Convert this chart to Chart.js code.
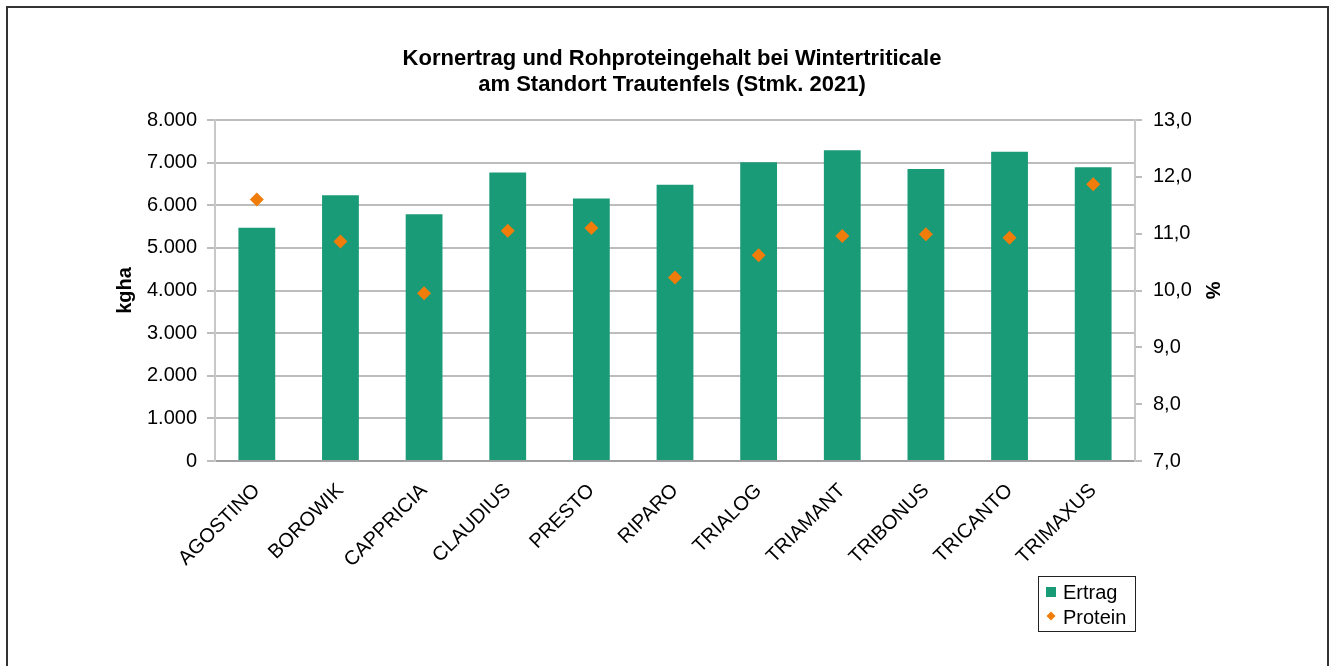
<!DOCTYPE html>
<html>
<head>
<meta charset="utf-8">
<script src="https://cdn.jsdelivr.net/npm/chart.js@4.4.1/dist/chart.umd.min.js"></script>
<style>
  html, body { margin: 0; padding: 0; background: #fff; }
  #wrap { position: relative; width: 1333px; height: 666px; overflow: hidden; }
  #frame { position: absolute; left: 6px; top: 6px; width: 1323px; height: 720px; border: 2px solid #333; box-sizing: border-box; }
  #wrap canvas { position: absolute; left: 0; top: 0; }
</style>
</head>
<body>
<div id="wrap">
  <div id="frame"></div>
  <canvas id="chart" width="1333" height="666"></canvas>
</div>
<script>
// Sorten (Kategorien)
const categories = ['AGOSTINO', 'BOROWIK', 'CAPPRICIA', 'CLAUDIUS', 'PRESTO', 'RIPARO',
                    'TRIALOG', 'TRIAMANT', 'TRIBONUS', 'TRICANTO', 'TRIMAXUS'];
// Kornertrag in kg/ha
const ertrag = [5470, 6235, 5790, 6770, 6160, 6480, 7010, 7290, 6850, 7255, 6890];
// Rohproteingehalt in %
const protein = [11.60, 10.86, 9.95, 11.05, 11.10, 10.23, 10.62, 10.96, 10.99, 10.93, 11.87];

// Achsenbereiche
const ertragAxis = { min: 0, max: 8000, step: 1000 };
const proteinAxis = { min: 7, max: 13, step: 1 };

const FONT = '"Liberation Sans", Arial, Helvetica, sans-serif';
const GREEN = '#1a9b78';
const ORANGE = '#f07d0a';

// Zahlen im deutschen Format
const fmtThousands = v => String(Math.round(v)).replace(/\B(?=(\d{3})+(?!\d))/g, '.');
const fmtOneDecimal = v => v.toFixed(1).replace('.', ',');

// Legende mit Rahmen unten rechts (wie im Original)
const boxLegend = {
  id: 'boxLegend',
  afterDraw(chart) {
    const ctx = chart.ctx;
    const x = 1038, y = 576, w = 97, h = 55;
    ctx.save();
    ctx.strokeStyle = '#222';
    ctx.lineWidth = 1;
    ctx.strokeRect(x + 0.5, y + 0.5, w, h);
    ctx.font = '20px ' + FONT;
    ctx.textBaseline = 'middle';
    ctx.textAlign = 'left';
    chart.data.datasets.forEach((ds, i) => {
      const cy = y + 16 + i * 25;
      ctx.fillStyle = ds.backgroundColor;
      if (ds.type === 'bar') {
        ctx.fillRect(x + 8, cy - 5, 10, 10);
      } else {
        const cx = x + 13, r = 4.5;
        ctx.beginPath();
        ctx.moveTo(cx, cy - r - 1);
        ctx.lineTo(cx + r, cy - 1);
        ctx.lineTo(cx, cy + r - 1);
        ctx.lineTo(cx - r, cy - 1);
        ctx.closePath();
        ctx.fill();
      }
      ctx.fillStyle = '#000';
      ctx.fillText(ds.label, x + 25, cy + 1);
    });
    ctx.restore();
  }
};

const ctx = document.getElementById('chart').getContext('2d');
new Chart(ctx, {
  data: {
    labels: categories,
    datasets: [
      {
        type: 'bar',
        label: 'Ertrag',
        data: ertrag,
        backgroundColor: GREEN,
        categoryPercentage: 1.0,
        barPercentage: 0.44,
        yAxisID: 'y',
        order: 1
      },
      {
        type: 'line',
        label: 'Protein',
        data: protein,
        showLine: false,
        pointStyle: 'rectRot',
        pointRadius: 7,
        pointBorderWidth: 0,
        backgroundColor: ORANGE,
        borderColor: ORANGE,
        yAxisID: 'y1',
        order: 0
      }
    ]
  },
  options: {
    responsive: false,
    animation: false,
    layout: { padding: { left: 11, right: 0, top: 0, bottom: 0 } },
    plugins: {
      legend: { display: false },
      tooltip: { enabled: false },
      title: {
        display: true,
        text: ['Kornertrag und Rohproteingehalt bei Wintertriticale', 'am Standort Trautenfels (Stmk. 2021)'],
        color: '#000',
        font: { family: FONT, size: 22, weight: 'bold', lineHeight: 1.2 },
        padding: { top: 45.5, bottom: 21.7 }
      }
    },
    scales: {
      x: {
        grid: { display: false },
        border: { display: true, color: '#a0a0a0', width: 2 },
        ticks: {
          color: '#000',
          font: { family: FONT, size: 20 },
          maxRotation: 45,
          minRotation: 45,
          padding: 10,
          autoSkip: false
        },
        afterFit(scale) { scale.height = 205; }
      },
      y: {
        position: 'left',
        min: ertragAxis.min,
        max: ertragAxis.max,
        grid: { color: '#bdbdbd', lineWidth: 2, tickLength: 8 },
        border: { color: '#c8c8c8', width: 2 },
        ticks: {
          stepSize: ertragAxis.step,
          color: '#000',
          font: { family: FONT, size: 20 },
          padding: 10,
          callback: v => fmtThousands(v)
        },
        title: {
          display: true,
          text: 'kgha',
          color: '#000',
          font: { family: FONT, size: 20, weight: 'bold', lineHeight: 1.2 },
          padding: { top: 102, bottom: 0 }
        },
        afterFit(scale) { scale.width = 204; }
      },
      y1: {
        position: 'right',
        min: proteinAxis.min,
        max: proteinAxis.max,
        grid: { drawOnChartArea: false, color: '#bdbdbd', lineWidth: 2, tickLength: 7 },
        border: { color: '#c8c8c8', width: 2 },
        ticks: {
          stepSize: proteinAxis.step,
          color: '#000',
          font: { family: FONT, size: 20 },
          padding: 11,
          callback: v => fmtOneDecimal(v)
        },
        title: {
          display: true,
          text: '%',
          color: '#000',
          font: { family: FONT, size: 20, weight: 'bold', lineHeight: 1.2 },
          padding: { top: 109, bottom: 0 }
        },
        afterFit(scale) { scale.width = 198; }
      }
    }
  },
  plugins: [boxLegend]
});
</script>
</body>
</html>
